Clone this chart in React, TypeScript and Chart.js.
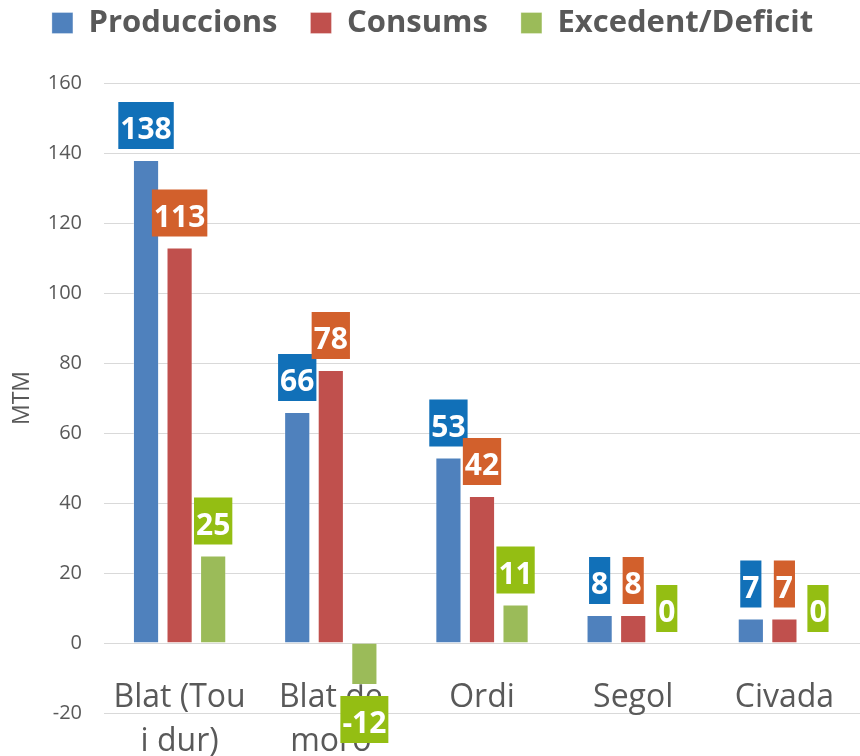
import React, { useEffect, useRef } from "react";
import { Chart, registerables } from "chart.js";

Chart.register(...registerables);

// ---- data ----
const categories: (string | string[])[] = [
  ["Blat (Tou", "i dur)"],
  ["Blat de", "moro"],
  "Ordi",
  "Segol",
  "Civada",
];
const seriesNames = ["Produccions", "Consums", "Excedent/Deficit"];
const produccions = [138, 66, 53, 8, 7];
const consums = [113, 78, 42, 8, 7];
const excedent = [25, -12, 11, 0, 0];
const yMin = -20;
const yMax = 160;
const yStep = 20;
const yTitle = "MTM";

// ---- styles ----
const barColors = ["#4f81bd", "#c0504d", "#9bbb59"];
const labelColors = ["#1170b8", "#d2602c", "#94be13"];
const FONT = "'Open Sans', 'Noto Sans', sans-serif";
const GRAY = "#595959";

const boxLabels = {
  id: "boxLabels",
  afterDatasetsDraw(chart: any) {
    const ctx = chart.ctx;
    ctx.save();
    ctx.font = `bold 30px ${FONT}`;
    ctx.textAlign = "center";
    ctx.textBaseline = "alphabetic";
    chart.data.datasets.forEach((ds: any, i: number) => {
      const meta = chart.getDatasetMeta(i);
      meta.data.forEach((el: any, j: number) => {
        const v = ds.data[j];
        const text = String(v);
        const w = ctx.measureText(text).width + 4;
        const h = 47;
        const gap = 11;
        const top = v < 0 ? el.y + gap : el.y - gap - h;
        ctx.fillStyle = labelColors[i];
        ctx.fillRect(el.x - w / 2, top, w, h);
        ctx.fillStyle = "#ffffff";
        ctx.fillText(text, el.x, top + h - 10);
      });
    });
    ctx.restore();
  },
};

const legendTweak = {
  id: "legendTweak",
  beforeLayout(chart: any) {
    const lg = chart.legend;
    if (!lg || lg._tweaked) return;
    lg._tweaked = true;
    const fit = lg.fit.bind(lg);
    lg.fit = function () {
      fit();
      this.height = 83;
    };
    const draw = lg.draw.bind(lg);
    lg.draw = function () {
      const c = chart.ctx;
      c.save();
      c.translate(2.5, -25.5);
      draw();
      c.restore();
    };
  },
};

export default function App() {
  const ref = useRef<HTMLCanvasElement | null>(null);
  useEffect(() => {
    if (!ref.current) return;
    const series = [produccions, consums, excedent];
    const chart = new Chart(ref.current, {
      type: "bar",
      data: {
        labels: categories,
        datasets: series.map((d, i) => ({
          label: seriesNames[i],
          data: d,
          backgroundColor: barColors[i],
          borderColor: "rgba(255,255,255,0.3)",
          borderWidth: 1,
          barPercentage: 0.78,
          categoryPercentage: 0.666,
        })),
      },
      options: {
        responsive: false,
        animation: false,
        devicePixelRatio: 1,
        layout: { padding: { top: 0, bottom: 43, left: 0, right: 0 } },
        plugins: {
          tooltip: { enabled: false },
          legend: {
            position: "top",
            labels: {
              boxWidth: 21,
              boxHeight: 21,
              padding: 33,
              color: GRAY,
              font: { family: FONT, size: 31, weight: "bold" },
            },
          },
        },
        scales: {
          x: {
            position: { y: 0 } as any,
            grid: { display: false },
            border: { display: false },
            ticks: {
              color: GRAY,
              font: { family: FONT, size: 32, lineHeight: 1.375 },
              padding: 25,
              maxRotation: 0,
              autoSkip: false,
            },
          },
          y: {
            min: yMin,
            max: yMax,
            ticks: {
              stepSize: yStep,
              color: GRAY,
              font: { family: FONT, size: 20 },
              padding: 22,
            },
            grid: { color: "#d9d9d9", drawTicks: false, lineWidth: 1 },
            border: { display: false },
            title: {
              display: true,
              text: yTitle,
              color: GRAY,
              font: { family: FONT, size: 23 },
              padding: { top: 9, bottom: 0 },
            },
            afterFit(s: any) {
              s.width = 104;
            },
          },
        },
      } as any,
      plugins: [legendTweak, boxLabels],
    });
    return () => chart.destroy();
  }, []);
  return (
    <div style={{ position: "fixed", left: 0, top: 0, width: 860, height: 756, background: "#fff" }}>
      <canvas ref={ref} width={860} height={756} style={{ display: "block" }} />
    </div>
  );
}
